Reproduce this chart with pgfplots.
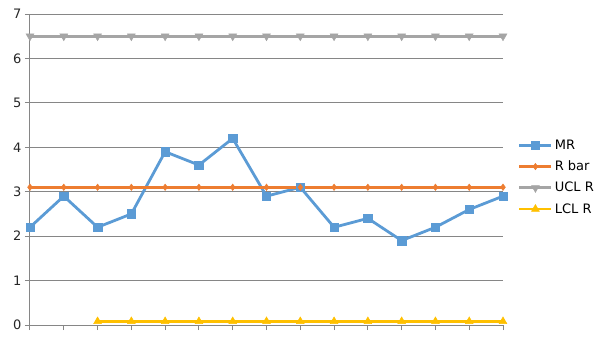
\documentclass[border=0pt]{standalone}
\usepackage{pgfplots}
\pgfplotsset{compat=1.18}
\usepackage{fontspec}
\setmainfont{DejaVu Sans}
\definecolor{cMR}{HTML}{5B9BD5}
\definecolor{cRB}{HTML}{ED7D31}
\definecolor{cUCL}{HTML}{A5A5A5}
\definecolor{cLCL}{HTML}{FFC000}
\definecolor{gridc}{HTML}{868686}
\begin{document}
\begin{tikzpicture}[x=1pt,y=1pt]
\begin{axis}[
  at={(0,0)}, anchor=origin,
  scale only axis, width=473pt, height=311pt,
  xmin=0, xmax=14, ymin=0, ymax=7,
  axis lines=left, axis line style={-, draw=gridc, line width=1pt},
  xtick={0,...,14}, xticklabels={},
  ytick={0,...,7},
  tick align=outside, major tick length=5pt,
  tick style={draw=gridc, line width=1pt},
  xmajorgrids=false, ymajorgrids=true, major grid style={draw=gridc, line width=1pt},
  /pgf/number format/assume math mode=true,
  tick label style={font=\fontsize{13}{15}\selectfont, text=black!85},
  clip=false,
  legend style={at={(1.025,0.475)}, anchor=west, draw=none, fill=none,
    font=\fontsize{13}{15}\selectfont, row sep=6pt,
    legend cell align=left},
  legend image code/.code={
    \draw[mark repeat=2,mark phase=2,#1] plot coordinates {(0pt,0pt) (16pt,0pt) (32pt,0pt)};},
  every axis plot/.append style={line width=2.8pt},
]
\addplot[cMR, mark=square*, mark size=4.2pt, mark options={line width=0.5pt}] coordinates {
(0,2.2) (1,2.9) (2,2.2) (3,2.5) (4,3.9) (5,3.6) (6,4.2) (7,2.9) (8,3.1) (9,2.2) (10,2.4) (11,1.9) (12,2.2) (13,2.6) (14,2.9)};
\addlegendentry{MR}
\addplot[cRB, mark=diamond*, mark size=3.2pt, mark options={line width=0.5pt}] coordinates {
(0,3.1) (1,3.1) (2,3.1) (3,3.1) (4,3.1) (5,3.1) (6,3.1) (7,3.1) (8,3.1) (9,3.1) (10,3.1) (11,3.1) (12,3.1) (13,3.1) (14,3.1)};
\addlegendentry{R bar}
\addplot[cUCL, mark=triangle*, mark size=4.5pt, mark options={rotate=180, line width=0.5pt}] coordinates {
(0,6.5) (1,6.5) (2,6.5) (3,6.5) (4,6.5) (5,6.5) (6,6.5) (7,6.5) (8,6.5) (9,6.5) (10,6.5) (11,6.5) (12,6.5) (13,6.5) (14,6.5)};
\addlegendentry{UCL R}
\addplot[cLCL, mark=triangle*, mark size=4.5pt, mark options={line width=0.5pt}] coordinates {
(2,0.08) (3,0.08) (4,0.08) (5,0.08) (6,0.08) (7,0.08) (8,0.08) (9,0.08) (10,0.08) (11,0.08) (12,0.08) (13,0.08) (14,0.08)};
\addlegendentry{LCL R}
\end{axis}
\pgfresetboundingbox
\path (-30pt,-15pt) rectangle (575pt,325pt);
\end{tikzpicture}
\end{document}
